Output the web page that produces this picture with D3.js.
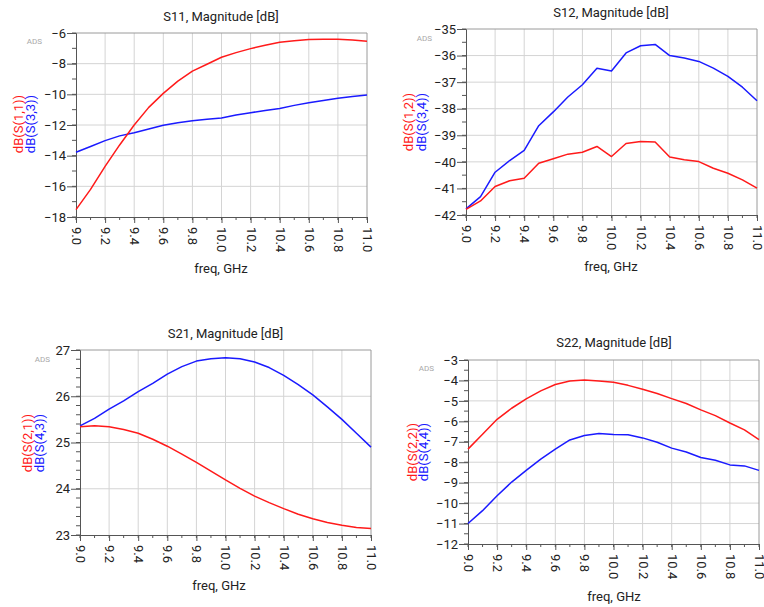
<!DOCTYPE html>
<html>
<head>
<meta charset="utf-8">
<script src="https://cdn.jsdelivr.net/npm/d3@7"></script>
<style>
  html, body { margin: 0; padding: 0; background: #fff; }
  svg { display: block; font-family: Roboto, "Noto Sans", sans-serif; }
</style>
</head>
<body>
<svg id="chart" width="764" height="607"></svg>
<script>
// ---------- data ----------
const freq = [9.0, 9.1, 9.2, 9.3, 9.4, 9.5, 9.6, 9.7, 9.8, 9.9, 10.0,
              10.1, 10.2, 10.3, 10.4, 10.5, 10.6, 10.7, 10.8, 10.9, 11.0];
const xTickLabels = ["9.0", "9.2", "9.4", "9.6", "9.8", "10.0", "10.2", "10.4", "10.6", "10.8", "11.0"];

// S11 panel
const s11 = [-17.52, -16.2, -14.7, -13.3, -12.0, -10.85, -9.94, -9.14, -8.49, -8.04, -7.58,
             -7.28, -7.02, -6.8, -6.6, -6.5, -6.43, -6.4, -6.4, -6.45, -6.54];
const s33 = [-13.78, -13.4, -13.02, -12.71, -12.5, -12.26, -12.02, -11.85, -11.72, -11.63, -11.54,
             -11.35, -11.2, -11.05, -10.92, -10.72, -10.55, -10.4, -10.25, -10.14, -10.05];
const s11Ticks = [-18, -16, -14, -12, -10, -8, -6];

// S12 panel
const s12 = [-41.79, -41.47, -40.93, -40.71, -40.62, -40.05, -39.88, -39.71, -39.64, -39.42, -39.8,
             -39.31, -39.23, -39.25, -39.82, -39.92, -39.99, -40.24, -40.43, -40.68, -40.99];
const s34 = [-41.77, -41.31, -40.39, -39.95, -39.57, -38.64, -38.12, -37.56, -37.1, -36.48, -36.58,
             -35.9, -35.63, -35.58, -36.0, -36.09, -36.22, -36.47, -36.78, -37.19, -37.7];
const s12Ticks = [-42, -41, -40, -39, -38, -37, -36, -35];

// S21 panel
const s21 = [25.34, 25.36, 25.34, 25.28, 25.2, 25.07, 24.92, 24.75, 24.57, 24.38, 24.19,
             24.01, 23.84, 23.7, 23.57, 23.45, 23.35, 23.27, 23.21, 23.16, 23.14];
const s43 = [25.36, 25.52, 25.72, 25.9, 26.1, 26.28, 26.48, 26.64, 26.76, 26.81, 26.83,
             26.81, 26.74, 26.62, 26.45, 26.25, 26.03, 25.77, 25.5, 25.2, 24.9];
const s21Ticks = [23, 24, 25, 26, 27];

// S22 panel
const s22 = [-7.36, -6.63, -5.9, -5.36, -4.9, -4.51, -4.2, -4.03, -3.98, -4.03, -4.09,
             -4.24, -4.43, -4.64, -4.89, -5.13, -5.44, -5.72, -6.08, -6.42, -6.9];
const s44 = [-11.0, -10.37, -9.64, -8.97, -8.4, -7.85, -7.36, -6.91, -6.69, -6.6, -6.65,
             -6.66, -6.81, -7.02, -7.31, -7.5, -7.77, -7.9, -8.13, -8.18, -8.4];
const s22Ticks = [-12, -11, -10, -9, -8, -7, -6, -5, -4, -3];

const titles = ["S11, Magnitude [dB]", "S12, Magnitude [dB]", "S21, Magnitude [dB]", "S22, Magnitude [dB]"];
const redLabels = ["dB(S(1,1))", "dB(S(1,2))", "dB(S(2,1))", "dB(S(2,2))"];
const blueLabels = ["dB(S(3,3))", "dB(S(3,4))", "dB(S(4,3))", "dB(S(4,4))"];

// ---------- layout ----------
const panels = [
  { L: 76,  R: 367, T: 33,  B: 217, ticks: s11Ticks, minor: 1,   red: s11, blue: s33,
    titleX: 221, titleY: 20.5, adsX: 42, adsY: 41, labR: 18, labB: 30, labY: 124, freqX: 221, freqY: 273 },
  { L: 466, R: 757, T: 29,  B: 215, ticks: s12Ticks, minor: 0.5, red: s12, blue: s34,
    titleX: 611, titleY: 17,   adsX: 432, adsY: 38, labR: 408, labB: 421, labY: 122, freqX: 611, freqY: 271 },
  { L: 80,  R: 371, T: 350, B: 535, ticks: s21Ticks, minor: 0.2, red: s21, blue: s43,
    titleX: 225.5, titleY: 337.5, adsX: 50, adsY: 359, labR: 27, labB: 39, labY: 443, freqX: 219, freqY: 590 },
  { L: 468, R: 759, T: 360, B: 544, ticks: s22Ticks, minor: 0.5, red: s22, blue: s44,
    titleX: 614, titleY: 347, adsX: 434, adsY: 368, labR: 412, labB: 423, labY: 452, freqX: 614, freqY: 601 }
];

const svg = d3.select("#chart");
const RED = "#ff1a1a", BLUE = "#1a1aff";
const GRID = "#d4d4d4", FRAME = "#9a9a9a", AXIS = "#555";

panels.forEach((p, i) => {
  const g = svg.append("g");
  const yMin = p.ticks[0], yMax = p.ticks[p.ticks.length - 1];
  const x = d3.scaleLinear().domain([freq[0], freq[freq.length - 1]]).range([p.L, p.R]);
  const y = d3.scaleLinear().domain([yMin, yMax]).range([p.B, p.T]);
  const xMajor = xTickLabels.map(Number);
  const xMinor = freq;
  const yMinor = d3.range(yMin, yMax + 1e-9, p.minor).map(v => +v.toFixed(4));

  // grid
  g.append("g").selectAll("line").data(xMajor.slice(1, -1)).join("line")
    .attr("x1", d => x(d)).attr("x2", d => x(d)).attr("y1", p.T).attr("y2", p.B)
    .attr("stroke", GRID).attr("stroke-width", 1);
  g.append("g").selectAll("line").data(p.ticks.slice(1, -1)).join("line")
    .attr("y1", d => y(d)).attr("y2", d => y(d)).attr("x1", p.L).attr("x2", p.R)
    .attr("stroke", GRID).attr("stroke-width", 1);

  // frame (top/right)
  g.append("path").attr("d", `M${p.L},${p.T}H${p.R}V${p.B}`)
    .attr("fill", "none").attr("stroke", FRAME).attr("stroke-width", 1);

  // y axis
  const yAxis = d3.axisLeft(y).tickValues(p.ticks).tickSize(9).tickPadding(1).tickFormat(d3.format("d"));
  const ya = g.append("g").attr("transform", `translate(${p.L},0)`).call(yAxis);
  ya.selectAll("text").attr("font-size", 13).attr("fill", "#222").attr("font-family", "Roboto");
  ya.selectAll("line").attr("stroke", AXIS);
  ya.select(".domain").attr("stroke", AXIS);
  g.append("g").selectAll("line").data(yMinor).join("line")
    .attr("x1", p.L - 4).attr("x2", p.L).attr("y1", d => y(d)).attr("y2", d => y(d))
    .attr("stroke", AXIS).attr("stroke-width", 1);

  // x axis
  const xAxis = d3.axisBottom(x).tickValues(xMajor).tickSize(6).tickFormat((d, k) => xTickLabels[k]);
  const xa = g.append("g").attr("transform", `translate(0,${p.B})`).call(xAxis);
  xa.select(".domain").attr("stroke", AXIS);
  xa.selectAll("line").attr("stroke", AXIS);
  xa.selectAll("text")
    .attr("font-size", 13).attr("fill", "#222").attr("font-family", "Roboto")
    .attr("text-anchor", "start")
    .attr("transform", "rotate(90)")
    .attr("x", 10).attr("y", 0).attr("dy", "0.35em");
  g.append("g").selectAll("line").data(xMinor).join("line")
    .attr("x1", d => x(d)).attr("x2", d => x(d)).attr("y1", p.B).attr("y2", p.B + 3)
    .attr("stroke", AXIS).attr("stroke-width", 1);

  // lines
  const line = d3.line().x((d, k) => x(freq[k])).y(d => y(d));
  g.append("path").datum(p.blue).attr("d", line).attr("fill", "none")
    .attr("stroke", BLUE).attr("stroke-width", 1.5).attr("stroke-linejoin", "round");
  g.append("path").datum(p.red).attr("d", line).attr("fill", "none")
    .attr("stroke", RED).attr("stroke-width", 1.5).attr("stroke-linejoin", "round");

  // title
  g.append("text").attr("x", p.titleX).attr("y", p.titleY).attr("text-anchor", "middle")
    .attr("font-size", 13).attr("fill", "#222").text(titles[i]);
  // ADS mark
  g.append("text").attr("x", p.adsX).attr("y", p.adsY).attr("text-anchor", "end")
    .attr("dominant-baseline", "central").attr("font-size", 8).attr("fill", "#a8a8a8").text("ADS");
  // y labels
  g.append("text").attr("transform", `translate(${p.labR},${p.labY}) rotate(-90)`)
    .attr("text-anchor", "middle").attr("dominant-baseline", "central")
    .attr("font-size", 13).attr("fill", RED).text(redLabels[i]);
  g.append("text").attr("transform", `translate(${p.labB},${p.labY}) rotate(-90)`)
    .attr("text-anchor", "middle").attr("dominant-baseline", "central")
    .attr("font-size", 13).attr("fill", BLUE).text(blueLabels[i]);
  // x label
  g.append("text").attr("x", p.freqX).attr("y", p.freqY).attr("text-anchor", "middle")
    .attr("font-size", 13).attr("fill", "#222").text("freq, GHz");
});
</script>
</body>
</html>
